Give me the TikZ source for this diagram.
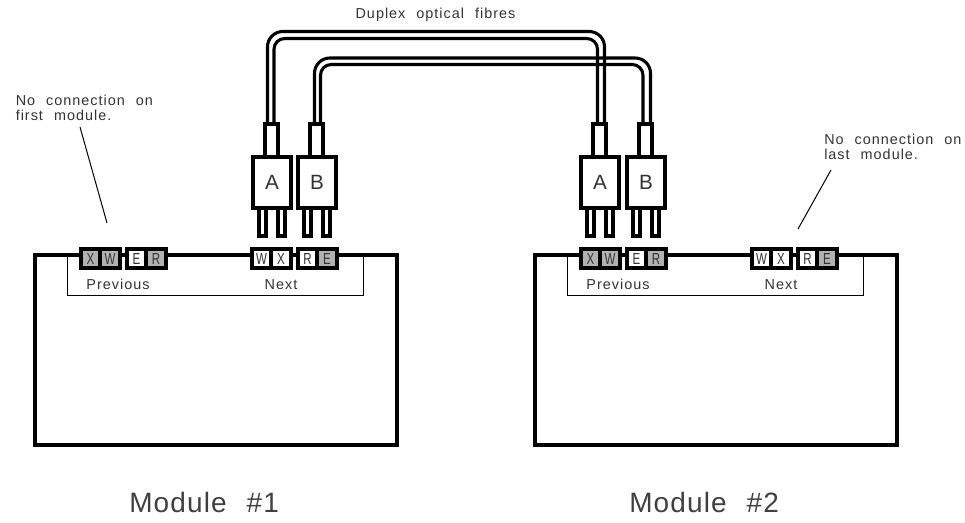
\documentclass[tikz,border=0pt]{standalone}
\usepackage{graphicx}
\usepackage{fontspec}
\setmainfont{Liberation Sans}
\newfontfamily\cadfont[LetterSpace=7,WordSpace=2.2]{Liberation Sans}
\newfontfamily\bigfont[LetterSpace=4]{Liberation Sans}
\definecolor{cellgrey}{gray}{0.7}
\tikzset{
  x=0.75pt,y=-0.75pt,
  heavy/.style={draw=black,line width=3pt,line join=miter},
  body/.style={heavy,fill=white},
  thin/.style={draw=black,line width=0.75pt},
  fibre/.style={draw=black,line width=2.3pt,rounded corners=11.5pt},
  label/.style={font=\cadfont\fontsize{10.8}{11}\selectfont,inner sep=0pt,text=black!80},
  note/.style={label,anchor=base west},
  cellt/.style={font=\fontsize{12}{12}\selectfont,inner sep=0pt,text=black!80,anchor=base},
  title/.style={font=\bigfont\fontsize{21}{22}\selectfont,inner sep=0pt,text=black!75,anchor=base west},
}
% \cellblock{x}{left letter}{left fill}{right letter}{right fill}
\newcommand{\cellblock}[5]{%
  \fill[#3] (#1+2,249) rectangle (#1+19.5,268);
  \fill[#5] (#1+21.5,249) rectangle (#1+41,268);
  \draw[line width=3pt] (#1+2,249) rectangle (#1+41,268);
  \draw[line width=3pt] (#1+20.5,249) -- (#1+20.5,268);
  \node[cellt] at (#1+11.5,264) {\scalebox{0.72}[1]{#2}};
  \node[cellt] at (#1+31,264) {\scalebox{0.72}[1]{#4}};
}
\newcommand{\moduleframe}[2]{%
  \draw[heavy,line width=2.6pt,fill=white] (#1,445) -- (#1,255) -- (#1+362,255) -- (#1+362,445) -- cycle;
  \draw[thin] (#1+32,255) -- (#1+32,295) -- (#1+328,295) -- (#1+328,255);
  \node[label,anchor=base] at (#1+83,289) {Previous};
  \node[label,anchor=base] at (#1+246,289) {Next};
  \node[title] at (#1+94,512) {Module\hspace{15pt}\##2};
}
\begin{document}
\begin{tikzpicture}
\useasboundingbox[fill=white] (0,0) rectangle (965,522);
% modules
\moduleframe{35}{1}
\moduleframe{535}{2}
% cell blocks
\cellblock{79}{X}{cellgrey}{W}{cellgrey}
\cellblock{125}{E}{white}{R}{cellgrey}
\cellblock{250}{W}{white}{X}{white}
\cellblock{296}{R}{white}{E}{cellgrey}
\cellblock{579}{X}{cellgrey}{W}{cellgrey}
\cellblock{625}{E}{white}{R}{cellgrey}
\cellblock{750}{W}{white}{X}{white}
\cellblock{796}{R}{white}{E}{cellgrey}
% fibres
\coordinate (a1o) at (267.5,122);
\coordinate (a1i) at (274,122);
\coordinate (a2o) at (604.5,122);
\coordinate (a2i) at (597.5,122);
\coordinate (b1o) at (314.5,122);
\coordinate (b1i) at (320.5,122);
\coordinate (b2o) at (650.5,122);
\coordinate (b2i) at (643,122);
\draw[fibre] (a1o) -- (267.5,31.5) -- (604.5,31.5) -- (a2o);
\draw[fibre,rounded corners=8pt] (a1i) -- (274,38.5) -- (597.5,38.5) -- (a2i);
\draw[fibre] (b1o) -- (314.5,58) -- (650.5,58) -- (b2o);
\draw[fibre,rounded corners=8pt] (b1i) -- (320.5,64.5) -- (643,64.5) -- (b2i);
% plugs
\foreach \px/\py/\pname in {251/A/pa,296/B/pb,579/A/pc,625/B/pd}{
  \draw[heavy,fill=white] (\px+7.5,235.5) rectangle (\px+15,208);
  \draw[heavy,fill=white] (\px+26.5,235.5) rectangle (\px+33.5,208);
  \draw[heavy,fill=white] (\px+14,124) rectangle (\px+26.5,157);
  \node[body,inner sep=0pt,minimum width=28.5pt,minimum height=38.5pt,anchor=north west,
        font=\fontsize{15.5}{16}\selectfont,text=black!80] (\pname) at (\px,155) {\py};
}
% notes
\node[note] (n1) at (15.5,105) {No connection on};
\node[note] (n1b) at (15.5,120) {first module.};
\coordinate (n1s) at (80,127);
\coordinate (n1e) at (107,223);
\draw[thin] (n1s) -- (n1e);
\node[note] (n2) at (824,144) {No connection on};
\node[note] (n2b) at (824,159) {last module.};
\coordinate (n2s) at (831,170);
\coordinate (n2e) at (798,229);
\draw[thin] (n2s) -- (n2e);
\node[label,anchor=base] (fib) at (435.5,18) {Duplex optical fibres};
\end{tikzpicture}
\end{document}
